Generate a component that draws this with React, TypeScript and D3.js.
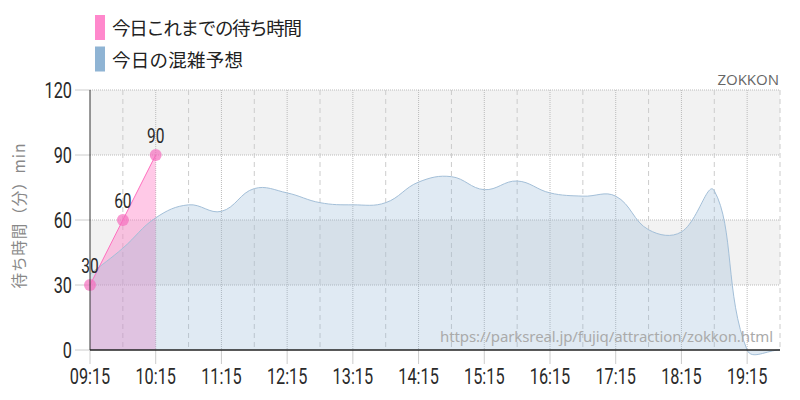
import React from "react";
import * as d3 from "d3";

// 今日の混雑予想 (forecast, every 30 min)
const forecastTimes = [
  "09:15", "09:45", "10:15", "10:45", "11:15", "11:45", "12:15", "12:45",
  "13:15", "13:45", "14:15", "14:45", "15:15", "15:45", "16:15", "16:45",
  "17:15", "17:45", "18:15", "18:45", "19:15", "19:45",
];
const forecastValues = [
  35, 47, 61, 67, 64, 74.5, 72.5, 68, 67, 68, 77.5, 80, 74, 78, 72.5, 71,
  71, 55.5, 54.5, 73.5, 0, 0,
];

// 今日これまでの待ち時間 (actual)
const actualTimes = ["09:15", "09:45", "10:15"];
const actualValues = [30, 60, 90];

const xTickLabels = [
  "09:15", "10:15", "11:15", "12:15", "13:15", "14:15", "15:15", "16:15",
  "17:15", "18:15", "19:15",
];
const yTicks = [0, 30, 60, 90, 120];

const legendLabels = ["今日これまでの待ち時間", "今日の混雑予想"];
const legendColors = ["#ff88cc", "#8fb4d4"];

const W = 800;
const H = 400;
const left = 90;
const right = 780;
const top = 90;
const bottom = 350;

const parse = d3.timeParse("%H:%M");
const numFont = "Roboto, 'Liberation Sans', sans-serif";
const jpFont = "'Noto Sans CJK JP', 'Noto Sans', sans-serif";

// spline like the original chart: control points scaled by segment length
function tensionCurve(tension) {
  return (context) => {
    let pts = [];
    let lineFlag = NaN;
    return {
      areaStart() { lineFlag = 0; },
      areaEnd() { lineFlag = NaN; },
      lineStart() { pts = []; },
      point(x, y) { pts.push([+x, +y]); },
      lineEnd() {
        const n = pts.length;
        if (n) {
          if (lineFlag) context.lineTo(pts[0][0], pts[0][1]);
          else context.moveTo(pts[0][0], pts[0][1]);
          const cps = pts.map((cur, i) => {
            const prev = pts[i - 1] || cur;
            const next = pts[i + 1] || cur;
            const d01 = Math.hypot(cur[0] - prev[0], cur[1] - prev[1]);
            const d12 = Math.hypot(next[0] - cur[0], next[1] - cur[1]);
            const sum = d01 + d12 || 1;
            const fa = (tension * d01) / sum;
            const fb = (tension * d12) / sum;
            return {
              before: [cur[0] - fa * (next[0] - prev[0]), cur[1] - fa * (next[1] - prev[1])],
              after: [cur[0] + fb * (next[0] - prev[0]), cur[1] + fb * (next[1] - prev[1])],
            };
          });
          for (let i = 1; i < n; i++) {
            const a = cps[i - 1].after;
            const b = cps[i].before;
            context.bezierCurveTo(a[0], a[1], b[0], b[1], pts[i][0], pts[i][1]);
          }
        }
        if (lineFlag || (lineFlag !== 0 && n === 1)) context.closePath();
        lineFlag = 1 - lineFlag;
      },
    };
  };
}

// condensed number text (no condensed font installed, so squeeze it)
function Num({ x, y, anchor, size, children }) {
  return (
    <text
      transform={`translate(${x},${y}) scale(0.74,1)`}
      textAnchor={anchor}
      fontFamily={numFont}
      fontSize={size}
      fill="#2a2a2a"
    >
      {children}
    </text>
  );
}

export default function App() {
  const t0 = parse("09:15");
  const t1 = parse("19:45");
  const x = d3.scaleTime().domain([t0, t1]).range([left, right]);
  const y = d3.scaleLinear().domain([0, 120]).range([bottom, top]);

  const forecast = forecastTimes.map((t, i) => ({ t: parse(t), v: forecastValues[i] }));
  const actual = actualTimes.map((t, i) => ({ t: parse(t), v: actualValues[i] }));

  const curve = tensionCurve(0.4);
  const blueArea = d3.area().x((d) => x(d.t)).y0(y(0)).y1((d) => y(d.v)).curve(curve);
  const blueLine = d3.line().x((d) => x(d.t)).y((d) => y(d.v)).curve(curve);
  const pinkArea = d3.area().x((d) => x(d.t)).y0(y(0)).y1((d) => y(d.v));
  const pinkLine = d3.line().x((d) => x(d.t)).y((d) => y(d.v));

  // vertical grid every 30 minutes
  const gridTimes = d3.range(30, 631, 30).map((m) => d3.timeMinute.offset(t0, m));

  return (
    <svg
      width={W}
      height={H}
      style={{ position: "absolute", left: 0, top: 0, display: "block" }}
    >
      <rect width={W} height={H} fill="#fff" />

      {/* legend */}
      {legendLabels.map((label, i) => (
        <g key={label}>
          <rect x={95} y={15 + i * 31.5} width={10} height={25} fill={legendColors[i]} />
          <text
            x={112}
            y={35 + i * 31.5}
            fontFamily={jpFont}
            fontSize={18.5}
            fill="#222"
            textLength={i === 0 ? 190 : 131}
            lengthAdjust="spacing"
          >
            {label}
          </text>
        </g>
      ))}

      <text x={779} y={85} textAnchor="end" fontFamily="'Open Sans', 'Noto Sans', sans-serif" fontSize={15} fill="#666">
        ZOKKON
      </text>

      {/* bands */}
      {[[30, 60], [90, 120]].map(([a, b]) => (
        <rect key={a} x={left} y={y(b)} width={right - left} height={y(a) - y(b)} fill="#f2f2f2" />
      ))}

      {/* horizontal grid */}
      {yTicks.map((v) => (
        <g key={v}>
          <line x1={75} x2={left} y1={y(v)} y2={y(v)} stroke="#ccc" />
          {v > 0 && (
            <line x1={left} x2={right} y1={y(v)} y2={y(v)} stroke="#bbb" strokeDasharray="1,1" />
          )}
        </g>
      ))}

      {/* vertical grid */}
      {gridTimes.map((t) => {
        const hour = t.getMinutes() === 15;
        return (
          <line
            key={+t}
            x1={x(t)}
            x2={x(t)}
            y1={top}
            y2={bottom}
            stroke={hour ? "#bbb" : "#ccc"}
            strokeDasharray={hour ? "1,1" : "5,4"}
          />
        );
      })}
      {xTickLabels.map((l) => (
        <line key={l} x1={x(parse(l))} x2={x(parse(l))} y1={bottom} y2={364} stroke="#ccc" />
      ))}

      {/* series */}
      <path d={pinkArea(actual)} fill="rgba(255,120,195,0.4)" />
      <path d={blueArea(forecast)} fill="rgba(143,180,212,0.28)" />
      <path d={blueLine(forecast)} fill="none" stroke="#a3bfd8" strokeWidth={1} />
      <path d={pinkLine(actual)} fill="none" stroke="#ff6fbf" strokeWidth={1} />
      {actual.map((d) => (
        <circle key={d.v} cx={x(d.t)} cy={y(d.v)} r={6} fill="rgba(245,110,190,0.7)" />
      ))}
      {actual.map((d) => (
        <Num key={d.v} x={x(d.t)} y={y(d.v) - 12} anchor="middle" size={21}>
          {d.v}
        </Num>
      ))}

      {/* axes */}
      <line x1={left} x2={left} y1={top} y2={bottom} stroke="#333" />
      <line x1={left} x2={right} y1={bottom} y2={bottom} stroke="#222" strokeWidth={1.5} />

      {yTicks.map((v) => (
        <Num key={v} x={72} y={y(v) + 8} anchor="end" size={22}>
          {v}
        </Num>
      ))}
      {xTickLabels.map((l) => (
        <Num key={l} x={x(parse(l))} y={384} anchor="middle" size={22}>
          {l}
        </Num>
      ))}

      <text
        transform="translate(25,216) rotate(-90)"
        textAnchor="middle"
        fontFamily={jpFont}
        fontSize={15.5}
        fill="#888"
        textLength={145}
        lengthAdjust="spacing"
      >
        待ち時間（分）min
      </text>

      <text
        x={773}
        y={342}
        textAnchor="end"
        fontFamily="'Noto Sans', 'Open Sans', sans-serif"
        fontSize={15}
        fill="#aaa"
        textLength={333}
        lengthAdjust="spacing"
      >
        https://parksreal.jp/fujiq/attraction/zokkon.html
      </text>
    </svg>
  );
}
